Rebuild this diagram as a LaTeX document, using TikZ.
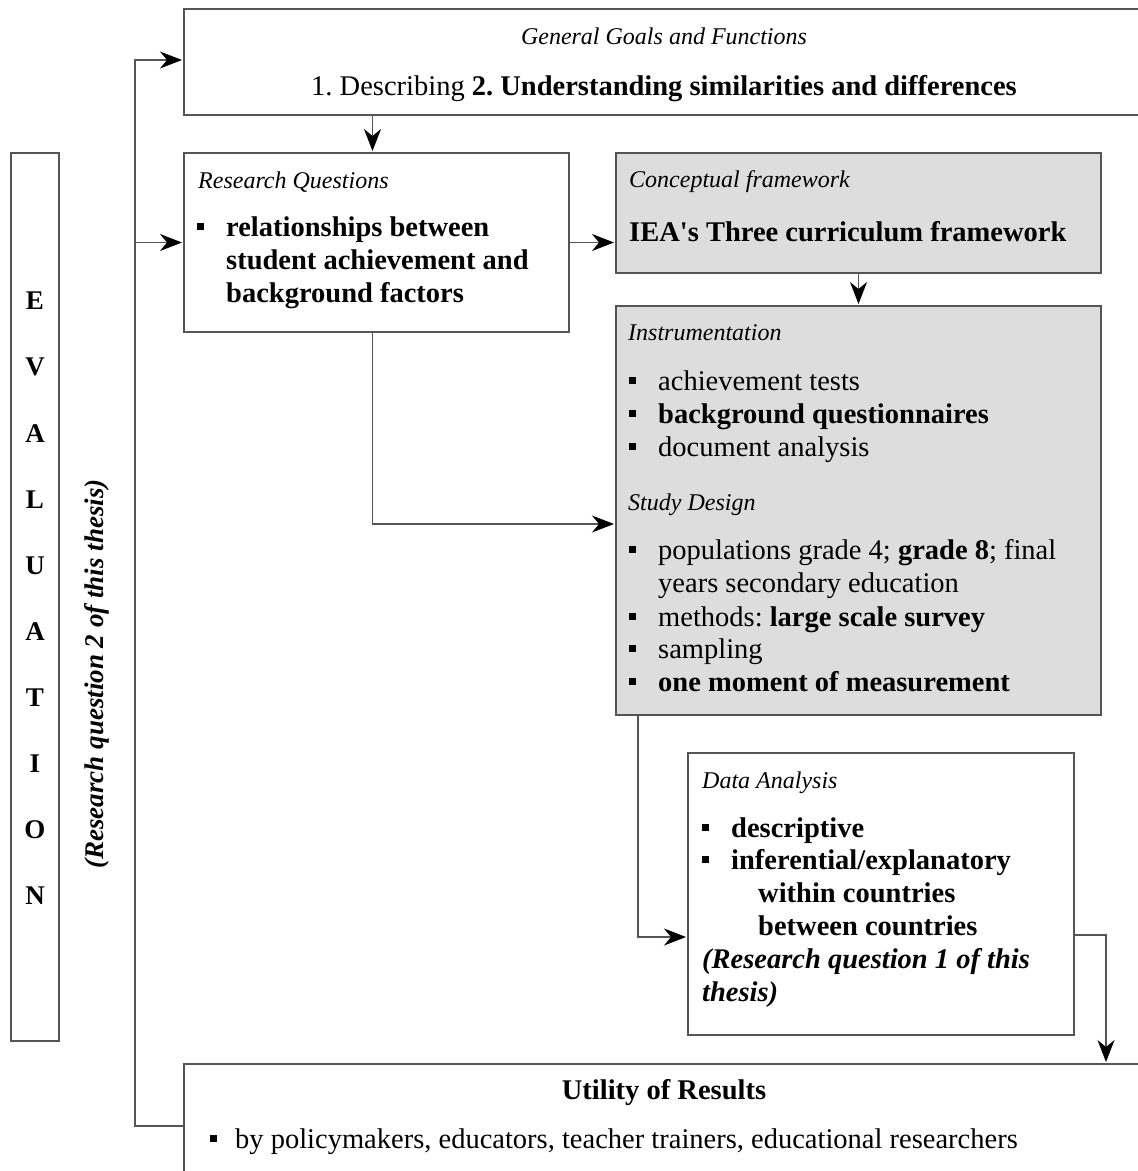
\documentclass[tikz,border=0pt]{standalone}
\usepackage{fontspec}
\setmainfont{Liberation Serif}[Ligatures=TeXOff]
\usetikzlibrary{arrows.meta}

% type sizes (1pt = one unit of the drawing grid)
\newcommand\hdfont{\fontsize{24}{28}\selectfont\itshape}
\newcommand\bdfont{\fontsize{28.5}{33}\selectfont}
\newcommand\bsq{\makebox[29pt][l]{\rule[6pt]{7pt}{7pt}}}
\newcommand\bsqn{\makebox[25pt][l]{\rule[6pt]{7pt}{7pt}}}

\definecolor{edge}{HTML}{555555}
\definecolor{shade}{HTML}{DDDDDD}

\begin{document}
\frenchspacing
\begin{tikzpicture}[x=1pt,y=-1pt,
  box/.style={draw=edge,line width=1.4pt,inner sep=0pt,outer sep=0pt,anchor=north west},
  graybox/.style={box,fill=shade},
  conn/.style={draw=edge,line width=1.3pt},
  arr/.style={conn,-{Stealth[length=22pt,width=17pt,inset=7pt,color=black,fill=black]},shorten >=2pt},
  head/.style={anchor=base west,inner sep=0pt,font=\hdfont},
  txt/.style={anchor=base west,inner sep=0pt,font=\bdfont},
  ctxt/.style={anchor=base,inner sep=0pt,font=\bdfont},
  letter/.style={anchor=center,inner sep=0pt,font=\fontsize{27}{30}\selectfont\bfseries}]

\useasboundingbox (0,0) rectangle (1138,1171);
\clip (0,0) rectangle (1138,1171);
\fill[white] (0,0) rectangle (1138,1171);

% ---------- boxes ----------
\node[box,minimum width=960pt,minimum height=106pt] (goals) at (184,9) {};
\node[box,minimum width=385pt,minimum height=179pt] (rq) at (184,153) {};
\node[graybox,minimum width=485pt,minimum height=120pt] (cf) at (616,153) {};
\node[graybox,minimum width=485pt,minimum height=409pt] (instr) at (616,306) {};
\node[box,minimum width=386pt,minimum height=282pt] (da) at (688,753) {};
\node[box,minimum width=960pt,minimum height=140pt] (util) at (184,1064) {};
\node[box,minimum width=48pt,minimum height=888pt] (eval) at (11,153) {};

% ---------- connectors ----------
\coordinate (fbtop) at (135,60);
\coordinate (fbbot) at (135,1126);
\coordinate (sdin) at (616,524);
\coordinate (dain) at (688,937);
\coordinate (daout) at (1074,935);
\coordinate (uin) at (1106,1064);

\draw[arr] (util.west |- fbbot) -- (fbbot) -- (fbtop) -- (goals.west |- fbtop);
\draw[arr] (fbbot |- rq.west) -- (rq.west);
\draw[arr] ([xshift=-4pt]rq.north |- goals.south) -- ([xshift=-4pt]rq.north);
\draw[arr] (rq.east) -- (cf.west |- rq.east);
\draw[arr] (cf.south) -- (instr.north);
\draw[arr] ([xshift=-4pt]rq.south) |- (sdin);
\draw[arr] ([xshift=22pt]instr.south west) |- (dain);
\draw[arr] (daout) -| (uin);

% ---------- general goals ----------
\node[anchor=base,inner sep=0pt,font=\hdfont] (gt) at (664,44) {General Goals and Functions};
\node[ctxt] (gs) at (664,95) {1. Describing \textbf{2. Understanding similarities and differences}};

% ---------- research questions ----------
\node[head] (rqh) at (198,188) {Research Questions};
\node[txt] (rq1) at (197,236) {\bsq\textbf{relationships between}};
\node[txt] (rq2) at (226,269) {\textbf{student achievement and}};
\node[txt] (rq3) at (226,302) {\textbf{background factors}};

% ---------- conceptual framework ----------
\node[head] (cfh) at (629,187) {Conceptual framework};
\node[txt] (cf1) at (629,241) {\textbf{IEA's Three curriculum framework}};

% ---------- instrumentation and study design ----------
\node[head] (inh) at (628,340) {Instrumentation};
\node[txt] (in1) at (629,390) {\bsq achievement tests};
\node[txt] (in2) at (629,423) {\bsq\textbf{background questionnaires}};
\node[txt] (in3) at (629,456) {\bsq document analysis};
\node[head] (sdh) at (628,510) {Study Design};
\node[txt] (sd1) at (629,559) {\bsq populations grade 4; \textbf{grade 8}; final};
\node[txt] (sd2) at (658,592) {years secondary education};
\node[txt] (sd3) at (629,626) {\bsq methods: \textbf{large scale survey}};
\node[txt] (sd4) at (629,658) {\bsq sampling};
\node[txt] (sd5) at (629,691) {\bsq\textbf{one moment of measurement}};

% ---------- data analysis ----------
\node[head] (dah) at (702,788) {Data Analysis};
\node[txt] (da1) at (702,837) {\bsq\textbf{descriptive}};
\node[txt] (da2) at (702,869) {\bsq\textbf{inferential/explanatory}};
\node[txt] (da3) at (758,902) {\textbf{within countries}};
\node[txt] (da4) at (758,935) {\textbf{between countries}};
\node[txt] (da5) at (702,968) {\textbf{\textit{(Research question 1 of this}}};
\node[txt] (da6) at (702,1001) {\textbf{\textit{thesis)}}};

% ---------- utility of results ----------
\node[ctxt] (uh) at (664,1099) {\textbf{Utility of Results}};
\node[txt] (u1) at (210,1148) {\bsqn by policymakers, educators, teacher trainers, educational researchers};

% ---------- evaluation column ----------
\foreach \ch [count=\i] in {E,V,A,L,U,A,T,I,O,N} {
  \node[letter] (ev\i) at (35,{301+66.1*(\i-1)}) {\ch};
}
\node[anchor=center,inner sep=0pt,rotate=90,font=\fontsize{27}{30}\selectfont\bfseries\itshape] (rq2note) at (97,674) {(Research question 2 of this thesis)};

\end{tikzpicture}
\end{document}
